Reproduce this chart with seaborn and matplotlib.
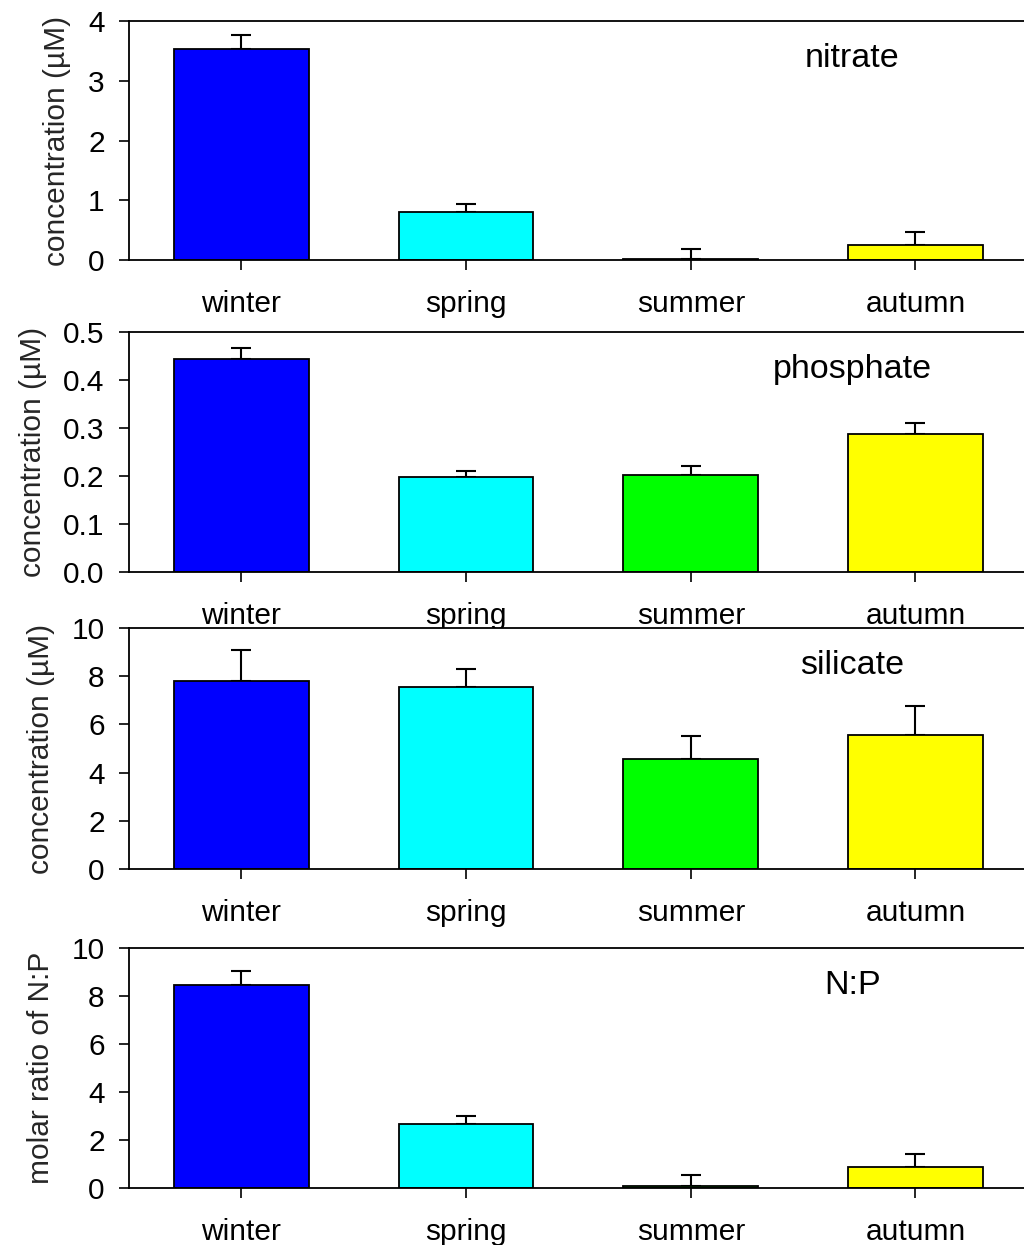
import numpy as np
import pandas as pd
import matplotlib
matplotlib.use("Agg")
import matplotlib.pyplot as plt
import seaborn as sns

sns.set_theme(style="white")
plt.rcParams['font.family'] = ['Liberation Sans', 'DejaVu Sans']

seasons = ["winter", "spring", "summer", "autumn"]
colors = ["#0000FF", "#00FFFF", "#00FF00", "#FFFF00"]

nitrate = [3.54, 0.80, 0.03, 0.26]
nitrate_err = [0.23, 0.14, 0.16, 0.22]
phosphate = [0.444, 0.198, 0.202, 0.287]
phosphate_err = [0.023, 0.013, 0.018, 0.023]
silicate = [7.81, 7.56, 4.56, 5.55]
silicate_err = [1.26, 0.75, 0.97, 1.20]
np_ratio = [8.47, 2.66, 0.08, 0.86]
np_ratio_err = [0.60, 0.34, 0.46, 0.57]

panels = [
    (nitrate, nitrate_err, "nitrate", "concentration (µM)", (0, 4), [0, 1, 2, 3, 4], "{:.0f}"),
    (phosphate, phosphate_err, "phosphate", "concentration (µM)", (0, 0.5), [0, 0.1, 0.2, 0.3, 0.4, 0.5], "{:.1f}"),
    (silicate, silicate_err, "silicate", "concentration (µM)", (0, 10), [0, 2, 4, 6, 8, 10], "{:.0f}"),
    (np_ratio, np_ratio_err, "N:P", "molar ratio of N:P", (0, 10), [0, 2, 4, 6, 8, 10], "{:.0f}"),
]

# (top_px, bottom_px) of each panel
H = 1245.0
W = 1024.0
boxes = [(21, 260.3), (332, 571.7), (628, 869), (948.3, 1188)]
left_px = 129
width_px = 898.8

fig = plt.figure(figsize=(10.24, 12.45), dpi=100)

for (vals, errs, name, ylabel, ylim, yticks, fmt), (top, bot) in zip(panels, boxes):
    ax = fig.add_axes([left_px / W, 1 - bot / H, width_px / W, (bot - top) / H])
    df = pd.DataFrame({"season": seasons, "value": vals})
    sns.barplot(data=df, x="season", y="value", hue="season", palette=colors,
                order=seasons, hue_order=seasons, legend=False, width=0.6,
                edgecolor="black", linewidth=1.3, saturation=1, ax=ax, errorbar=None)
    ax.errorbar(np.arange(len(seasons)), vals, yerr=[np.zeros(len(errs)), errs],
                fmt="none", ecolor="black", elinewidth=1.5, capsize=7, capthick=1.5, zorder=0.5)
    ax.set_xlim(-0.5, 3.5)
    ax.set_ylim(*ylim)
    ax.set_yticks(yticks)
    ax.set_yticklabels([fmt.format(t) for t in yticks])
    ax.set_xlabel("")
    ax.set_ylabel(ylabel, fontsize=21.5, labelpad=12)
    ax.tick_params(axis="both", which="both", direction="out", length=7.5, width=1.2,
                   color="black", labelsize=21.5, labelcolor="black")
    ax.tick_params(axis="x", pad=14, bottom=True)
    ax.tick_params(axis="y", pad=10, left=True)
    for s in ["left", "bottom", "top"]:
        ax.spines[s].set_visible(True)
        ax.spines[s].set_color("black")
        ax.spines[s].set_linewidth(1.3)
    ax.spines["right"].set_visible(False)
    ax.text(0.805, 0.845, name, transform=ax.transAxes, ha="center", va="center",
            fontsize=24.5, color="black")

fig.savefig("out.png", dpi=100)
